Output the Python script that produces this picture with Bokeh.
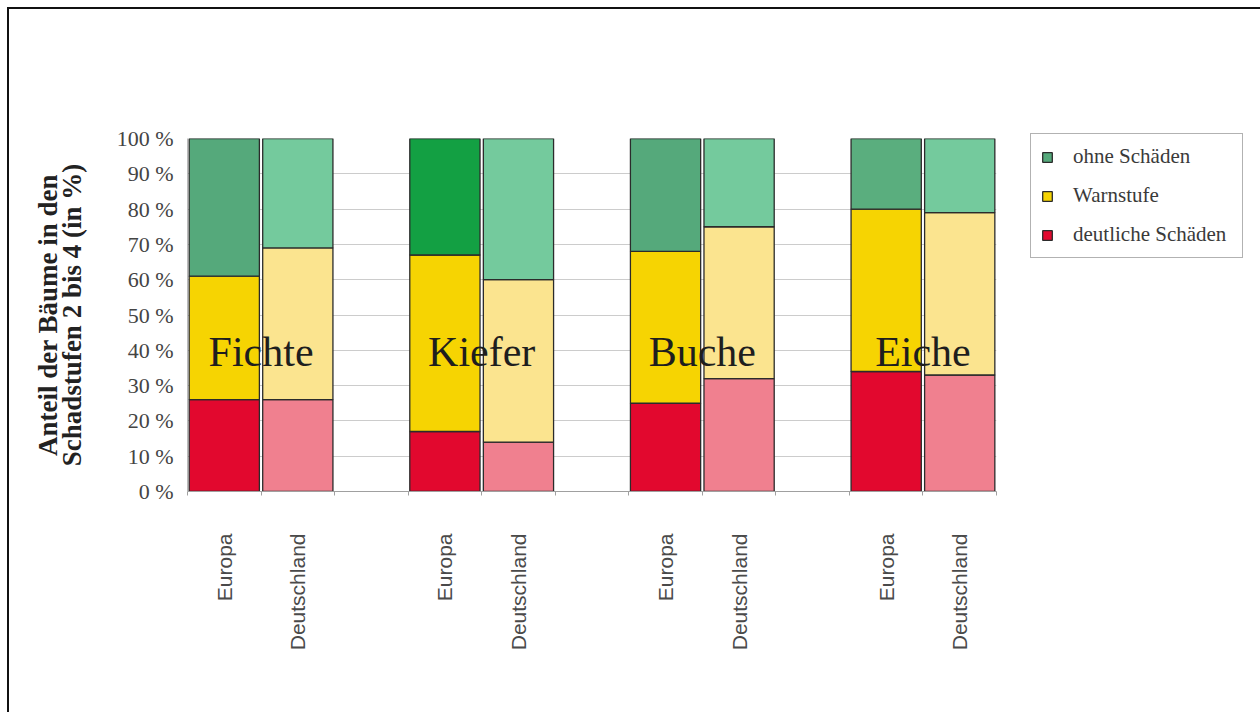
from bokeh.plotting import figure
from bokeh.models import ColumnDataSource, FixedTicker, Legend, LegendItem, LinearAxis, Range1d
from bokeh.core.properties import value
from bokeh.embed import file_html
from bokeh.resources import INLINE
import math

# Tree species and regions (each species: Europa bar, Deutschland bar)
species = ["Fichte", "Kiefer", "Buche", "Eiche"]
regions = ["Europa", "Deutschland"]

# Shares per bar in %, order: Fichte E, Fichte D, Kiefer E, Kiefer D, Buche E, Buche D, Eiche E, Eiche D
deutliche = [26, 26, 17, 14, 25, 32, 34, 33]
warnstufe = [35, 43, 50, 46, 43, 43, 46, 46]
ohne = [39, 31, 33, 40, 32, 25, 20, 21]

series_names = ["ohne Schäden", "Warnstufe", "deutliche Schäden"]

y_ticks = [0, 10, 20, 30, 40, 50, 60, 70, 80, 90, 100]
y_tick_labels = ["0 %", "10 %", "20 %", "30 %", "40 %", "50 %", "60 %", "70 %", "80 %", "90 %", "100 %"]

y_title_lines = ["Anteil der Bäume in den", "Schadstufen 2 bis 4 (in %)"]

# fills: Europa saturated, Deutschland light
green_fill = ["#55a97b", "#74ca9d", "#13a043", "#74ca9d", "#55a97b", "#74ca9d", "#5aae7e", "#74ca9d"]
yellow_fill = ["#f6d402", "#fbe48f"] * 4
red_fill = ["#e2082e", "#f0808f"] * 4

SERIF = value("Liberation Serif")

# one slot per bar, an empty slot between species groups
x_center, region_label = [], []
for i, sp in enumerate(species):
    for j, rg in enumerate(regions):
        x_center.append(3 * i + j + 0.5)
        region_label.append(rg)
n_slots = 3 * len(species) - 1

red_top = deutliche
yellow_top = [d + w for d, w in zip(deutliche, warnstufe)]
green_top = [d + w + o for d, w, o in zip(deutliche, warnstufe, ohne)]

src = ColumnDataSource(dict(
    x=x_center,
    red_b=[0] * len(x_center), red_t=red_top,
    yel_b=red_top, yel_t=yellow_top,
    grn_b=yellow_top, grn_t=green_top,
    red_c=red_fill, yel_c=yellow_fill, grn_c=green_fill,
))

p = figure(
    frame_width=809, frame_height=353,
    min_border_left=178, min_border_right=264,
    min_border_top=129, min_border_bottom=221,
    x_range=Range1d(0, n_slots), y_range=Range1d(0, 100),
    output_backend="svg", toolbar_location=None,
    background_fill_color="white", border_fill_color="white",
)
p.outline_line_color = None
p.styles = {"border-top": "2px solid #111", "border-left": "2px solid #111",
            "margin-left": "7px", "margin-top": "7px"}

# y axis with percent labels
p.yaxis.ticker = FixedTicker(ticks=y_ticks)
p.yaxis.major_label_overrides = {t: s for t, s in zip(y_ticks, y_tick_labels)}
p.yaxis.major_label_text_font = "Liberation Serif"
p.yaxis.major_label_text_font_size = "22px"
p.yaxis.major_label_text_color = "#444444"
p.yaxis.major_tick_out = 0
p.yaxis.major_tick_in = 0
p.yaxis.minor_tick_line_color = None
p.yaxis.axis_line_color = "#bbbbbb"
p.yaxis.major_label_standoff = 14

# two-line y title, one line per extra axis
for line, standoff in ((y_title_lines[1], 27), (y_title_lines[0], -9)):
    ax = LinearAxis(ticker=FixedTicker(ticks=[]), axis_label=line)
    ax.axis_line_color = None
    ax.major_tick_line_color = None
    ax.minor_tick_line_color = None
    ax.major_label_text_font_size = "0px"
    ax.axis_label_text_font = "Liberation Serif"
    ax.axis_label_text_font_size = "27px"
    ax.axis_label_text_font_style = "bold"
    ax.axis_label_text_color = "#222222"
    ax.axis_label_standoff = standoff
    p.add_layout(ax, "left")

# x axis: region names under each bar, small ticks at slot borders
p.xaxis.ticker = FixedTicker(ticks=x_center, minor_ticks=list(range(n_slots + 1)))
p.xaxis.major_label_overrides = {x: r for x, r in zip(x_center, region_label)}
p.xaxis.major_label_orientation = math.pi / 2
p.xaxis.major_label_text_font = "Liberation Sans"
p.xaxis.major_label_text_font_size = "21px"
p.xaxis.major_label_text_color = "#4a4a4a"
p.xaxis.major_label_standoff = 38
p.xaxis.axis_line_color = "#a0a0a0"
p.xaxis.major_tick_line_color = None
p.xaxis.major_tick_out = 0
p.xaxis.major_tick_in = 0
p.xaxis.minor_tick_line_color = "#a0a0a0"
p.xaxis.minor_tick_out = 4
p.xaxis.minor_tick_in = 0

p.xgrid.grid_line_color = None
p.ygrid.ticker = FixedTicker(ticks=y_ticks)
p.ygrid.grid_line_color = "#cccccc"
p.ygrid.grid_line_width = 1

W = 0.955
kw = dict(line_color="#2b2b2b", line_width=1.3, source=src, width=W)
r_red = p.vbar(x="x", bottom="red_b", top="red_t", fill_color="red_c", **kw)
r_yel = p.vbar(x="x", bottom="yel_b", top="yel_t", fill_color="yel_c", **kw)
r_grn = p.vbar(x="x", bottom="grn_b", top="grn_t", fill_color="grn_c", **kw)

# species names across each pair of bars
sp_src = ColumnDataSource(dict(x=[3 * i + 1 for i in range(len(species))],
                               y=[39.5] * len(species), t=species))
p.text(x="x", y="y", text="t", source=sp_src, text_font=SERIF,
       text_font_size="42px", text_color="#1e1e1e",
       text_align="center", text_baseline="alphabetic")

legend = Legend(items=[
    LegendItem(label=series_names[0], renderers=[r_grn], index=0),
    LegendItem(label=series_names[1], renderers=[r_yel], index=0),
    LegendItem(label=series_names[2], renderers=[r_red], index=0),
], location=(34, 233))
legend.label_text_font = "Liberation Serif"
legend.label_text_font_size = "21px"
legend.label_text_color = "#3a3a3a"
legend.glyph_width = 12
legend.glyph_height = 12
legend.label_height = 23
legend.label_width = 159
legend.label_standoff = 20
legend.spacing = 14
legend.padding = 10
legend.margin = 0
legend.border_line_color = "#666666"
legend.border_line_width = 1.2
legend.background_fill_color = "white"
legend.background_fill_alpha = 1
p.add_layout(legend, "right")

open("out.html", "w").write(file_html(p, INLINE))
